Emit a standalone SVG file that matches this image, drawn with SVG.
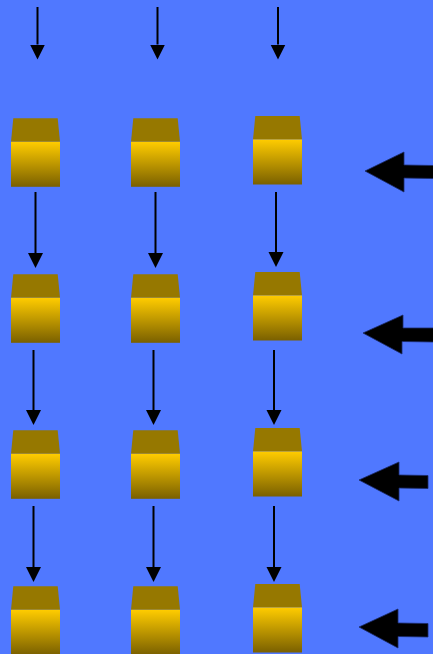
<svg xmlns="http://www.w3.org/2000/svg" width="433" height="654" viewBox="0 0 433 654">
<defs>
<linearGradient id="body" x1="0" y1="0" x2="0" y2="1">
<stop offset="0" stop-color="#FFCC00"/>
<stop offset="1" stop-color="#7A6000"/>
</linearGradient>
<marker id="ah" markerUnits="userSpaceOnUse" markerWidth="16" markerHeight="16" viewBox="0 0 16 16" refX="0" refY="8" orient="auto">
<path d="M0,0.5 L15,8 L0,15.5 Z" fill="#000"/>
</marker>
<g id="box">
<polygon points="2.3,0 46.7,0 49,23.5 0,23.5" fill="#967800"/>
<rect x="0" y="23.5" width="49" height="45" fill="url(#body)"/>
</g>
</defs>
<style>
.c{stroke:#000;stroke-width:2;fill:none;marker-end:url(#ah)}
.big{fill:#000;stroke:#1a2a66;stroke-width:0.8}
</style>
<rect width="433" height="654" fill="#5078FF"/>
<g id="connectors">
<line class="c" x1="37.5" y1="7" x2="37.5" y2="44.5"/>
<line class="c" x1="157.5" y1="7" x2="157.5" y2="44.5"/>
<line class="c" x1="278" y1="7" x2="278" y2="44.5"/>
<line class="c" x1="35.5" y1="192" x2="35.5" y2="253"/>
<line class="c" x1="155.5" y1="192" x2="155.5" y2="253"/>
<line class="c" x1="276" y1="192" x2="276" y2="252"/>
<line class="c" x1="33.5" y1="350" x2="33.5" y2="410"/>
<line class="c" x1="153.5" y1="350" x2="153.5" y2="410"/>
<line class="c" x1="274" y1="350" x2="274" y2="410"/>
<line class="c" x1="33.5" y1="506" x2="33.5" y2="567"/>
<line class="c" x1="153.5" y1="506" x2="153.5" y2="567"/>
<line class="c" x1="274" y1="506" x2="274" y2="567"/>
</g>
<g id="n1"><use href="#box" x="11" y="118.3"/></g>
<g id="n2"><use href="#box" x="131" y="118.3"/></g>
<g id="n3"><use href="#box" x="253" y="116"/></g>
<g id="n4"><use href="#box" x="11" y="274.3"/></g>
<g id="n5"><use href="#box" x="131" y="274.3"/></g>
<g id="n6"><use href="#box" x="253" y="272"/></g>
<g id="n7"><use href="#box" x="11" y="430.3"/></g>
<g id="n8"><use href="#box" x="131" y="430.3"/></g>
<g id="n9"><use href="#box" x="253" y="428"/></g>
<g id="n10"><use href="#box" x="11" y="586.3"/></g>
<g id="n11"><use href="#box" x="131" y="586.3"/></g>
<g id="n12"><use href="#box" x="253" y="584"/></g>
<g id="arrows">
<path class="big" d="M365,171 L404,152 L404,165 L434,165.5 L434,178.5 L404,178 L404,192 Z"/>
<path class="big" d="M363,333 L403,315 L403,328 L434,328 L434,342 L402,341.5 L402,354 Z"/>
<path class="big" d="M359,480 L399,462 L399,475 L428,475.5 L428,488.5 L399,488 L399,501 Z"/>
<path class="big" d="M359,627 L398,609 L398,623 L428,623.5 L428,637 L398,636.5 L398,648 Z"/>
</g>
</svg>
